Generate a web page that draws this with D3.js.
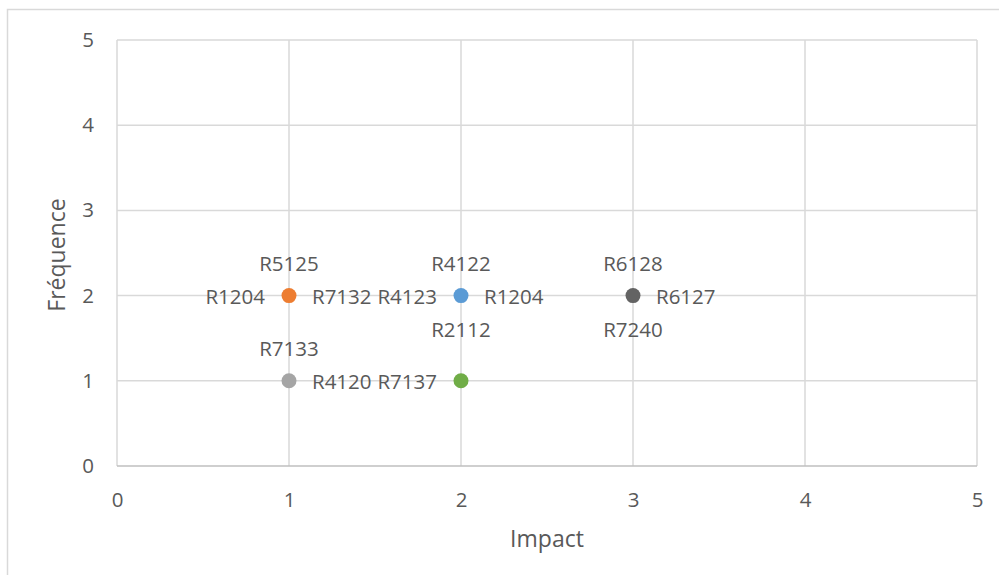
<!DOCTYPE html>
<html>
<head>
<meta charset="utf-8">
<script src="https://cdn.jsdelivr.net/npm/d3@7"></script>
<style>
  html, body { margin: 0; padding: 0; background: #fff; }
  svg text { font-family: "Open Sans", "Noto Sans", sans-serif; fill: #595959; }
</style>
</head>
<body>
<svg id="chart" width="999" height="575"></svg>
<script>
// Risk points: impact (x), frequency (y), colour
const pointImpact = [1, 2, 3, 1, 2];
const pointFreq   = [2, 2, 2, 1, 1];
const pointColor  = ["#ED7D31", "#5B9BD5", "#636363", "#A5A5A5", "#70AD47"];

// Risk codes placed around each point: above / left / right / below
const labelsAbove = ["R5125", "R4122", "R6128", "R7133", ""];
const labelsLeft  = ["R1204", "R4123", "", "", "R7137"];
const labelsRight = ["R7132", "R1204", "R6127", "R4120", ""];
const labelsBelow = ["", "R2112", "R7240", "", ""];

const xTicks = [0, 1, 2, 3, 4, 5];
const yTicks = [0, 1, 2, 3, 4, 5];
const xTitle = "Impact";
const yTitle = "Fréquence";

const svg = d3.select("#chart");

// Chart frame
svg.append("rect")
  .attr("x", 7.5).attr("y", 9.5)
  .attr("width", 1100).attr("height", 700)
  .attr("fill", "#fff").attr("stroke", "#d9d9d9").attr("stroke-width", 1.5);

const x = d3.scaleLinear().domain([0, 5]).range([117, 977]);
const y = d3.scaleLinear().domain([0, 5]).range([466, 40]);

const fs = 20.5;      // tick and point labels
const fsTitle = 23;   // axis titles

// Vertical gridlines
svg.append("g").selectAll("line").data(xTicks).join("line")
  .attr("x1", d => x(d)).attr("x2", d => x(d))
  .attr("y1", y(5)).attr("y2", y(0))
  .attr("stroke", "#d9d9d9").attr("stroke-width", 1.5);

// Horizontal gridlines
svg.append("g").selectAll("line").data(yTicks).join("line")
  .attr("x1", x(0)).attr("x2", x(5))
  .attr("y1", d => y(d)).attr("y2", d => y(d))
  .attr("stroke", d => d === 0 ? "#bfbfbf" : "#d9d9d9").attr("stroke-width", 1.5);

// Axes (labels only; lines are drawn as gridlines)
const xAxis = svg.append("g")
  .attr("transform", `translate(0,${y(0)})`)
  .call(d3.axisBottom(x).tickValues(xTicks).tickSize(0).tickPadding(26.5).tickFormat(d3.format("d")));
xAxis.select(".domain").remove();
xAxis.selectAll("text").attr("font-size", fs).attr("fill", "#595959").style("font-family", null);

const yAxis = svg.append("g")
  .attr("transform", `translate(${x(0)},0)`)
  .call(d3.axisLeft(y).tickValues(yTicks).tickSize(0).tickPadding(23).tickFormat(d3.format("d")));
yAxis.select(".domain").remove();
yAxis.selectAll("text").attr("font-size", fs).attr("fill", "#595959").style("font-family", null);

// Axis titles
svg.append("text")
  .attr("x", (x(0) + x(5)) / 2).attr("y", 547)
  .attr("text-anchor", "middle").attr("font-size", fsTitle)
  .text(xTitle);

svg.append("text")
  .attr("transform", `translate(65,${(y(0) + y(5)) / 2 + 2}) rotate(-90)`)
  .attr("text-anchor", "middle").attr("font-size", fsTitle)
  .text(yTitle);

// Points
const idx = d3.range(pointImpact.length);
svg.append("g").selectAll("circle").data(idx).join("circle")
  .attr("cx", i => x(pointImpact[i]))
  .attr("cy", i => y(pointFreq[i]))
  .attr("r", 7.5)
  .attr("fill", i => pointColor[i]);

// Labels around points
const lab = svg.append("g").attr("font-size", fs);
idx.forEach(i => {
  const cx = x(pointImpact[i]), cy = y(pointFreq[i]);
  if (labelsAbove[i]) lab.append("text").attr("x", cx).attr("y", cy - 25)
    .attr("text-anchor", "middle").text(labelsAbove[i]);
  if (labelsBelow[i]) lab.append("text").attr("x", cx).attr("y", cy + 41)
    .attr("text-anchor", "middle").text(labelsBelow[i]);
  if (labelsLeft[i]) lab.append("text").attr("x", cx - 24).attr("y", cy + 8)
    .attr("text-anchor", "end").text(labelsLeft[i]);
  if (labelsRight[i]) lab.append("text").attr("x", cx + 23).attr("y", cy + 8)
    .attr("text-anchor", "start").text(labelsRight[i]);
});
</script>
</body>
</html>
